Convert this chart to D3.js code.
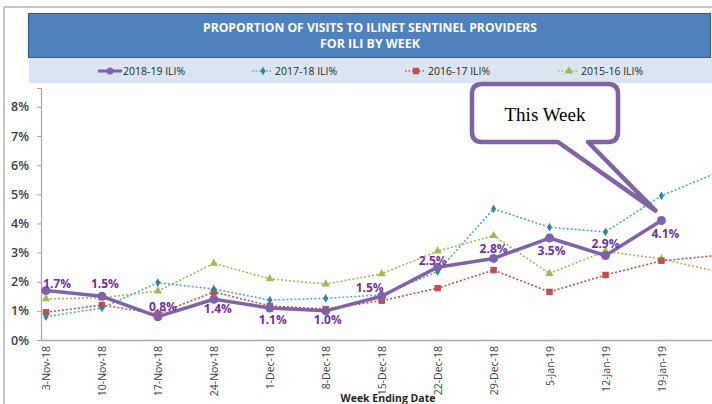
<!DOCTYPE html>
<html>
<head>
<meta charset="utf-8">
<script src="https://cdn.jsdelivr.net/npm/d3@7/dist/d3.min.js"></script>
<style>
  html, body { margin: 0; padding: 0; background: #fff; }
  svg { display: block; }
</style>
</head>
<body>
<svg id="chart" width="712" height="404"></svg>
<script>
// Week-ending dates on the category axis
const weeks = ["3-Nov-18", "10-Nov-18", "17-Nov-18", "24-Nov-18", "1-Dec-18", "8-Dec-18",
  "15-Dec-18", "22-Dec-18", "29-Dec-18", "5-Jan-19", "12-Jan-19", "19-Jan-19", "26-Jan-19"];

// ILI% by season
const ili2018 = [1.7, 1.5, 0.8, 1.4, 1.1, 1.0, 1.5, 2.5, 2.8, 3.5, 2.9, 4.1];
const ili2017 = [0.8, 1.1, 1.97, 1.75, 1.37, 1.43, 1.55, 2.35, 4.5, 3.87, 3.71, 4.95, 5.75];
const ili2016 = [0.95, 1.2, 0.9, 1.65, 1.17, 1.06, 1.35, 1.78, 2.4, 1.65, 2.23, 2.72, 2.9];
const ili2015 = [1.41, 1.45, 1.68, 2.63, 2.1, 1.92, 2.27, 3.05, 3.58, 2.28, 3.05, 2.78, 2.35];

const yTicks = [0, 1, 2, 3, 4, 5, 6, 7, 8];
const seriesNames = ["2018-19 ILI%", "2017-18 ILI%", "2016-17 ILI%", "2015-16 ILI%"];

const svg = d3.select("#chart");
const W = 712, H = 404;

// outer frame
svg.append("line").attr("x1", 4).attr("x2", W).attr("y1", 7).attr("y2", 7)
  .attr("stroke", "#c4c4c4").attr("stroke-width", 2);
svg.append("line").attr("x1", 4).attr("x2", 4).attr("y1", 7).attr("y2", H)
  .attr("stroke", "#c4c4c4").attr("stroke-width", 2);

// title banner
svg.append("rect").attr("x", 28.5).attr("y", 13.5).attr("width", 682).attr("height", 44)
  .attr("fill", "#4f81bd").attr("stroke", "#385d8a").attr("stroke-width", 1.2);
const title = svg.append("g").attr("font-family", "'Open Sans', sans-serif")
  .attr("font-weight", "bold").attr("fill", "#ffffff").attr("text-anchor", "middle");
title.append("text").attr("x", 370).attr("y", 32).attr("font-size", 12.5)
  .attr("textLength", 334).attr("lengthAdjust", "spacingAndGlyphs")
  .text("PROPORTION OF VISITS TO ILINET SENTINEL PROVIDERS");
title.append("text").attr("x", 370).attr("y", 48).attr("font-size", 12.5)
  .attr("textLength", 100).attr("lengthAdjust", "spacingAndGlyphs")
  .text("FOR ILI BY WEEK");

// legend band
svg.append("rect").attr("x", 29).attr("y", 58).attr("width", 683).attr("height", 25)
  .attr("fill", "#dce6f2");

// scales
const x = d3.scalePoint().domain(weeks).range([46, 46 + 55.95 * (weeks.length - 1)]);
const y = d3.scaleLinear().domain([0, 8.65]).range([340, 88]);

const colors = {
  s18: "#7f63a8", s17: "#4bacc6", s16: "#c0504d", s15: "#9bbb59",
  m17: "#31849b", lab: "#7030a0"
};

// axes
const yAxis = d3.axisLeft(y).tickValues(yTicks).tickSize(4).tickPadding(8)
  .tickFormat(d => d + "%");
const gy = svg.append("g").attr("transform", "translate(41,0)").call(yAxis);
gy.select(".domain").attr("stroke", "#a6a6a6").attr("stroke-width", 1.2);
gy.selectAll(".tick line").attr("stroke", "#a6a6a6");
gy.selectAll(".tick text").attr("font-family", "'Open Sans', sans-serif")
  .attr("font-size", 12.5).attr("font-weight", 600).attr("fill", "#404040");

// only the weeks that fit inside the frame get a label
const xAxis = d3.axisBottom(x).tickValues(weeks.slice(0, ili2018.length))
  .tickSize(0).tickPadding(0);
const gx = svg.append("g").attr("transform", "translate(0,340)").call(xAxis);
gx.select(".domain").attr("d", "M41,0.5H" + W).attr("stroke", "#a6a6a6").attr("stroke-width", 1.5);
gx.selectAll(".tick text")
  .attr("font-family", "'Open Sans', sans-serif").attr("font-size", 10.5).attr("fill", "#404040")
  .attr("transform", "rotate(-90)").attr("text-anchor", "end")
  .attr("x", -6).attr("y", 0).attr("dy", "0.35em");

svg.append("text").attr("x", 388).attr("y", 402).attr("text-anchor", "middle")
  .attr("font-family", "'Open Sans', sans-serif").attr("font-weight", "bold")
  .attr("font-size", 10.5).attr("fill", "#262626").text("Week Ending Date");

const line = d3.line().x((d, i) => x(weeks[i])).y(d => y(d));

// marker shapes
const sym = {
  diamond: d3.symbol().type(d3.symbolDiamond).size(22),
  square: d3.symbol().type(d3.symbolSquare).size(42),
  triangle: d3.symbol().type(d3.symbolTriangle).size(30),
  circle: d3.symbol().type(d3.symbolCircle).size(70)
};

function dotted(data, color, markerColor, shape) {
  const g = svg.append("g");
  g.append("path").datum(data).attr("d", line).attr("fill", "none")
    .attr("stroke", color).attr("stroke-width", 1.6).attr("stroke-dasharray", "2,2");
  g.selectAll("path.m").data(data).join("path").attr("class", "m")
    .attr("transform", (d, i) => `translate(${x(weeks[i])},${y(d)})`)
    .attr("d", sym[shape]).attr("fill", markerColor);
}

dotted(ili2015, colors.s15, colors.s15, "triangle");
dotted(ili2016, colors.s16, colors.s16, "square");
dotted(ili2017, colors.s17, colors.m17, "diamond");

// current season
const g18 = svg.append("g");
g18.append("path").datum(ili2018).attr("d", line).attr("fill", "none")
  .attr("stroke", colors.s18).attr("stroke-width", 3.5).attr("stroke-linejoin", "round");
g18.selectAll("circle").data(ili2018).join("circle")
  .attr("cx", (d, i) => x(weeks[i])).attr("cy", d => y(d)).attr("r", 4.5)
  .attr("fill", colors.s18);

// value labels: horizontal nudge and baseline offset from each point
const labelDx = [11, 3, 5, 4, 3, 2, -12, -5, 0, 2, 0, 4];
const labelDy = [-2, -8, -6, 14, 16, 13, -4, -2, -5, 17, -8, 17];
g18.selectAll("text").data(ili2018).join("text")
  .attr("x", (d, i) => x(weeks[i]) + labelDx[i])
  .attr("y", (d, i) => y(d) + labelDy[i])
  .attr("text-anchor", "middle").attr("font-family", "'Open Sans', sans-serif")
  .attr("font-weight", "bold").attr("font-size", 12).attr("fill", colors.lab)
  .text(d => d.toFixed(1) + "%");

// legend
const legendX = [98, 252, 405, 558];
const legendShapes = [null, "diamond", "square", "triangle"];
const legendColors = [colors.s18, colors.s17, colors.s16, colors.s15];
const legendMarkers = [colors.s18, colors.m17, colors.s16, colors.s15];
const lg = svg.append("g");
seriesNames.forEach((name, i) => {
  const lx = legendX[i], ly = 71;
  if (i === 0) {
    lg.append("line").attr("x1", lx).attr("x2", lx + 24).attr("y1", ly).attr("y2", ly)
      .attr("stroke", colors.s18).attr("stroke-width", 3);
    lg.append("circle").attr("cx", lx + 12).attr("cy", ly).attr("r", 3.5).attr("fill", colors.s18);
  } else {
    lg.append("line").attr("x1", lx).attr("x2", lx + 21).attr("y1", ly).attr("y2", ly)
      .attr("stroke", legendColors[i]).attr("stroke-width", 1.4).attr("stroke-dasharray", "1.5,2");
    lg.append("path").attr("transform", `translate(${lx + 11},${ly})`)
      .attr("d", sym[legendShapes[i]]).attr("fill", legendMarkers[i]);
  }
  lg.append("text").attr("x", lx + (i === 0 ? 25 : 23)).attr("y", ly + 4)
    .attr("font-family", "'Open Sans', sans-serif").attr("font-size", 10.5)
    .attr("fill", "#262626").text(name);
});

// "This Week" callout pointing at the latest point
const last = ili2018.length - 1;
const tipX = x(weeks[last]) - 6, tipY = y(ili2018[last]) - 10;
const bx0 = 472, bx1 = 618, by0 = 84, by1 = 142, r = 10;
const tail0 = 558, tail1 = 588;
const callout = `M${bx0 + r},${by0} H${bx1 - r} Q${bx1},${by0} ${bx1},${by0 + r} V${by1 - r}
  Q${bx1},${by1} ${bx1 - r},${by1} H${tail1} L${tipX},${tipY} L${tail0},${by1}
  H${bx0 + r} Q${bx0},${by1} ${bx0},${by1 - r} V${by0 + r} Q${bx0},${by0} ${bx0 + r},${by0} Z`;
svg.append("path").attr("d", callout).attr("fill", "#ffffff")
  .attr("stroke", "#8064a2").attr("stroke-width", 4.5).attr("stroke-linejoin", "round");
svg.append("text").attr("x", 545).attr("y", 121).attr("text-anchor", "middle")
  .attr("font-family", "'Liberation Serif', 'Times New Roman', serif")
  .attr("font-size", 19).attr("fill", "#000").text("This Week");
</script>
</body>
</html>
